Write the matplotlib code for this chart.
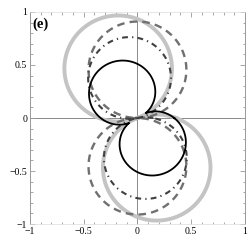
import matplotlib
matplotlib.use("Agg")
import matplotlib.pyplot as plt
from matplotlib.ticker import MultipleLocator
import numpy as np

# lobe parameters: r = size*|cos(theta - angle)| + waist
names = ["gray", "dashed", "dashdot", "black"]
lobe_size = [1.00, 0.91, 0.77, 0.49]
lobe_angle = [111, 90, 101, 121]   # degrees
waist = [0.0, 0.0, 0.0, 0.09]

ticks = [-1, -0.5, 0, 0.5, 1]
tick_labels = ["\u22121", "\u22120.5", "0", "0.5", "1"]

styles = {
    "gray": dict(color="#c4c4c4", lw=2.8, ls="-"),
    "dashed": dict(color="#707070", lw=1.7, dashes=(3.2, 2.2)),
    "dashdot": dict(color="#404040", lw=1.5, dashes=(2.8, 2.0, 0.6, 2.0)),
    "black": dict(color="black", lw=1.3, ls="-"),
}

fig = plt.figure(figsize=(2.49, 2.49), dpi=100)
ax = fig.add_axes([0.120, 0.100, 0.864, 0.852])

theta = np.linspace(0, 2 * np.pi, 1441)
for name, a, phi, c in zip(names, lobe_size, lobe_angle, waist):
    r = a * np.abs(np.cos(theta - np.radians(phi))) + c
    ax.plot(r * np.cos(theta), r * np.sin(theta), **styles[name], zorder=3)

ax.axhline(0, color="#8a8a8a", lw=0.7, zorder=1)
ax.axvline(0, color="#8a8a8a", lw=0.7, zorder=1)

ax.set_xlim(-1, 1)
ax.set_ylim(-1, 1)
ax.set_xticks(ticks)
ax.set_yticks(ticks)
ax.set_xticklabels(tick_labels)
ax.set_yticklabels(tick_labels)
ax.xaxis.set_minor_locator(MultipleLocator(0.1))
ax.yaxis.set_minor_locator(MultipleLocator(0.1))
ax.tick_params(which="both", direction="in", top=True, right=True,
               color="#999999", width=0.6)
ax.tick_params(which="major", length=3.5, pad=2)
ax.tick_params(which="minor", length=1.8)
for lab in ax.get_xticklabels() + ax.get_yticklabels():
    lab.set_family("Liberation Serif")
    lab.set_fontsize(7)

for side in ["left", "right"]:
    ax.spines[side].set_color("#999999")
    ax.spines[side].set_linewidth(0.7)
for side in ["top", "bottom"]:
    ax.spines[side].set_color("#dddddd")
    ax.spines[side].set_linewidth(0.5)

ax.text(0.012, 0.975, "(e)", transform=ax.transAxes, ha="left", va="top",
        family="Liberation Serif", fontweight="bold", fontsize=10.5)

fig.savefig("out.png", dpi=100)
